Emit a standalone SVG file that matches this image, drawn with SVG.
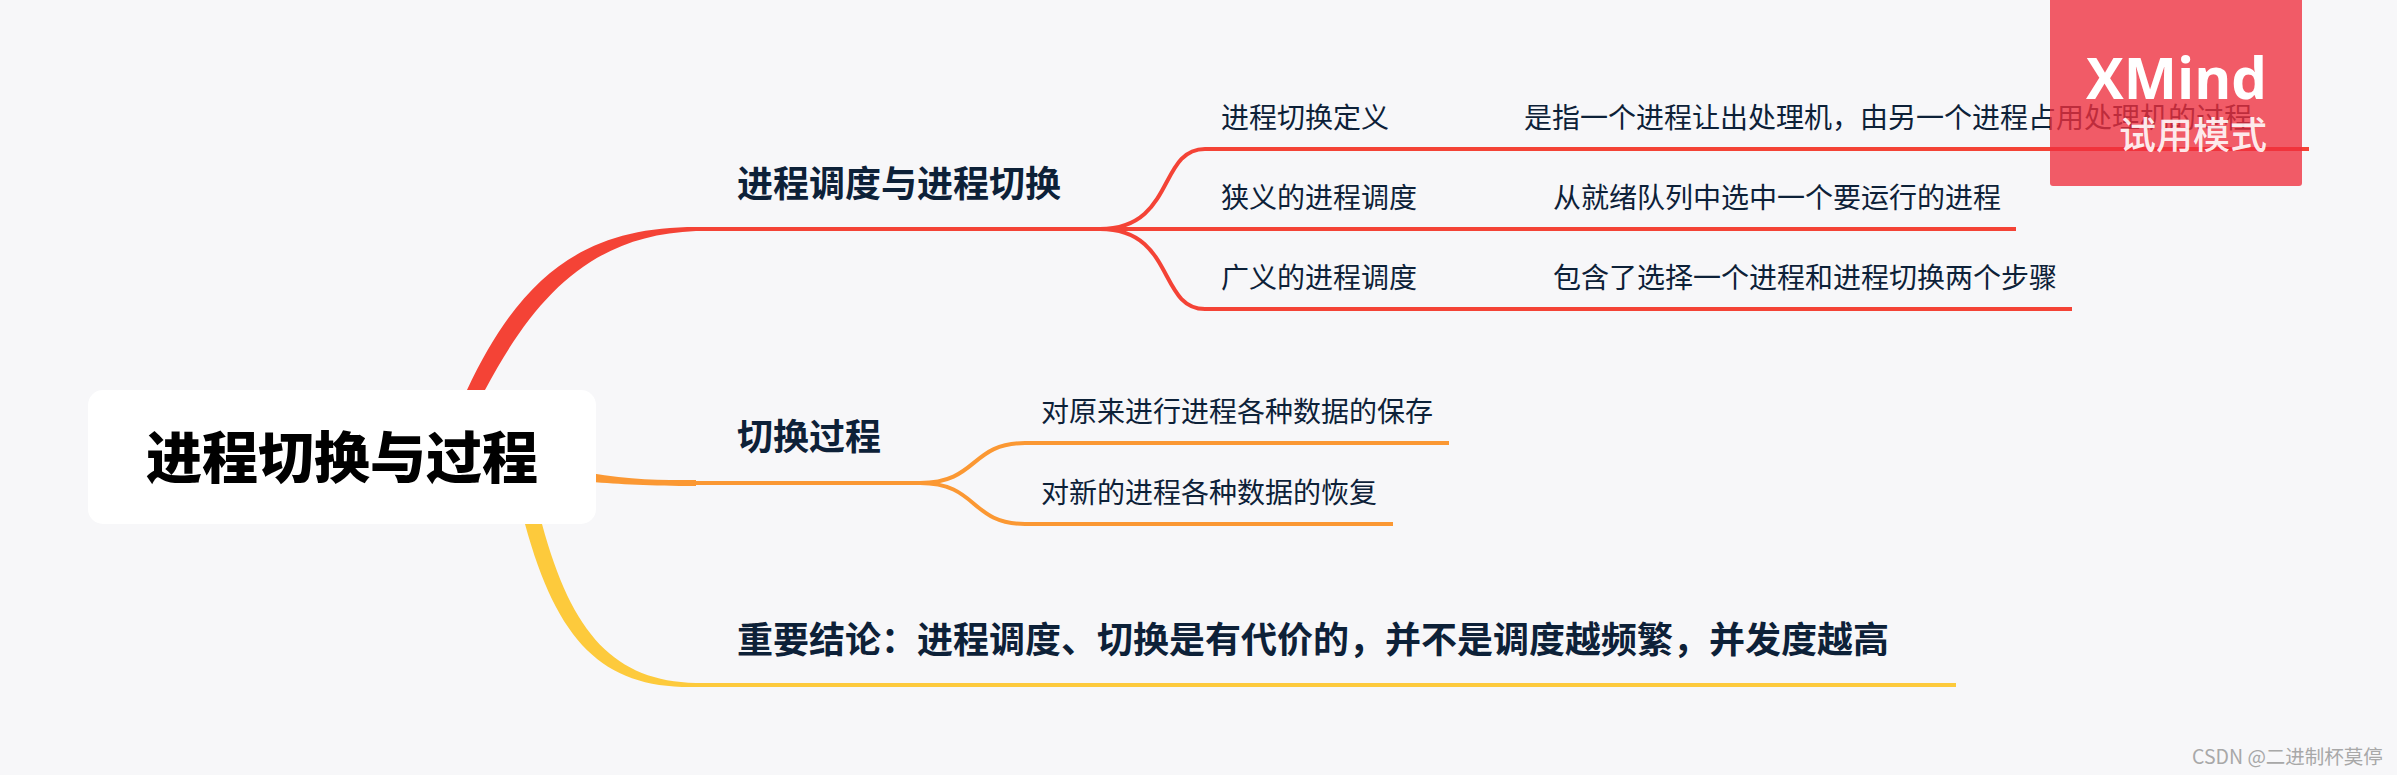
<svg xmlns="http://www.w3.org/2000/svg" width="2397" height="775" viewBox="0 0 2397 775">
<style>
text{font-family:"Noto Sans CJK SC","Noto Sans",sans-serif;dominant-baseline:central}
.sub{font-size:28px;fill:#0d2138}
.topic{font-size:36px;font-weight:700;fill:#0d2138}
.l{fill:none;stroke-width:4}
.r{stroke:#f44336}.o{stroke:#fb9833}.y{stroke:#fdca3c}
</style>
<rect width="2397" height="775" fill="#f7f7f9"/>
<g id="connectors">
<path fill="#f44336" d="M460 410L467 390C522 272 588 227 696 227V231C596 235 538 290 485 390L480 410Z"/>
<path fill="#fb9833" d="M590 473C630 480 660 480 696 480V486C650 486 620 484 590 482Z"/>
<path fill="#fdca3c" d="M520 510L525 524C558 645 605 689 696 687V683C615 681 572 635 542 524L538 510Z"/>
<path class="l r" d="M696 229H1100"/>
<path class="l r" d="M1100 229C1175 229 1158 149 1205 149H2309"/>
<path class="l r" d="M1100 229H2016"/>
<path class="l r" d="M1100 229C1175 229 1158 309 1205 309H2072"/>
<path class="l o" d="M696 483H920"/>
<path class="l o" d="M920 483C978 483 970 443 1025 443H1449"/>
<path class="l o" d="M920 483C978 483 970 524 1025 524H1393"/>
<path class="l y" d="M696 685H1956"/>
</g>
<g id="root"><rect x="88" y="390" width="508" height="134" rx="15" fill="#fff"/><text x="342" y="453" text-anchor="middle" font-size="56" font-weight="900" fill="#000">进程切换与过程</text></g>
<g id="topic-1"><text class="topic" x="737" y="181">进程调度与进程切换</text></g>
<g id="topic-2"><text class="topic" x="737" y="434">切换过程</text></g>
<g id="topic-3"><text class="topic" x="737" y="637">重要结论&#xFF1A;进程调度、切换是有代价的&#xFF0C;并不是调度越频繁&#xFF0C;并发度越高</text></g>
<g id="sub-1"><text class="sub" x="1221" y="116">进程切换定义</text></g>
<g id="sub-1-1"><text class="sub" x="1524" y="116">是指一个进程让出处理机&#xFF0C;由另一个进程占用处理机的过程</text></g>
<g id="sub-2"><text class="sub" x="1221" y="196">狭义的进程调度</text></g>
<g id="sub-2-1"><text class="sub" x="1553" y="196">从就绪队列中选中一个要运行的进程</text></g>
<g id="sub-3"><text class="sub" x="1221" y="276">广义的进程调度</text></g>
<g id="sub-3-1"><text class="sub" x="1553" y="276">包含了选择一个进程和进程切换两个步骤</text></g>
<g id="sub-4"><text class="sub" x="1041" y="410">对原来进行进程各种数据的保存</text></g>
<g id="sub-5"><text class="sub" x="1041" y="491">对新的进程各种数据的恢复</text></g>
<g id="watermark">
<path d="M2050 0H2302V183a3 3 0 0 1-3 3H2053a3 3 0 0 1-3-3Z" fill="#ef2f3e" fill-opacity=".78"/>
<text x="2086" y="76" font-size="58" font-weight="700" fill="#fff" textLength="181" lengthAdjust="spacingAndGlyphs" style="font-family:'Open Sans',sans-serif">XMind</text>
<text x="2119" y="133" font-size="37" font-weight="500" fill="#fff" fill-opacity=".9">试用模式</text>
</g>
<text x="2192" y="755" font-size="19.5" fill="#a8a8a8">CSDN @二进制杯莫停</text>
</svg>
